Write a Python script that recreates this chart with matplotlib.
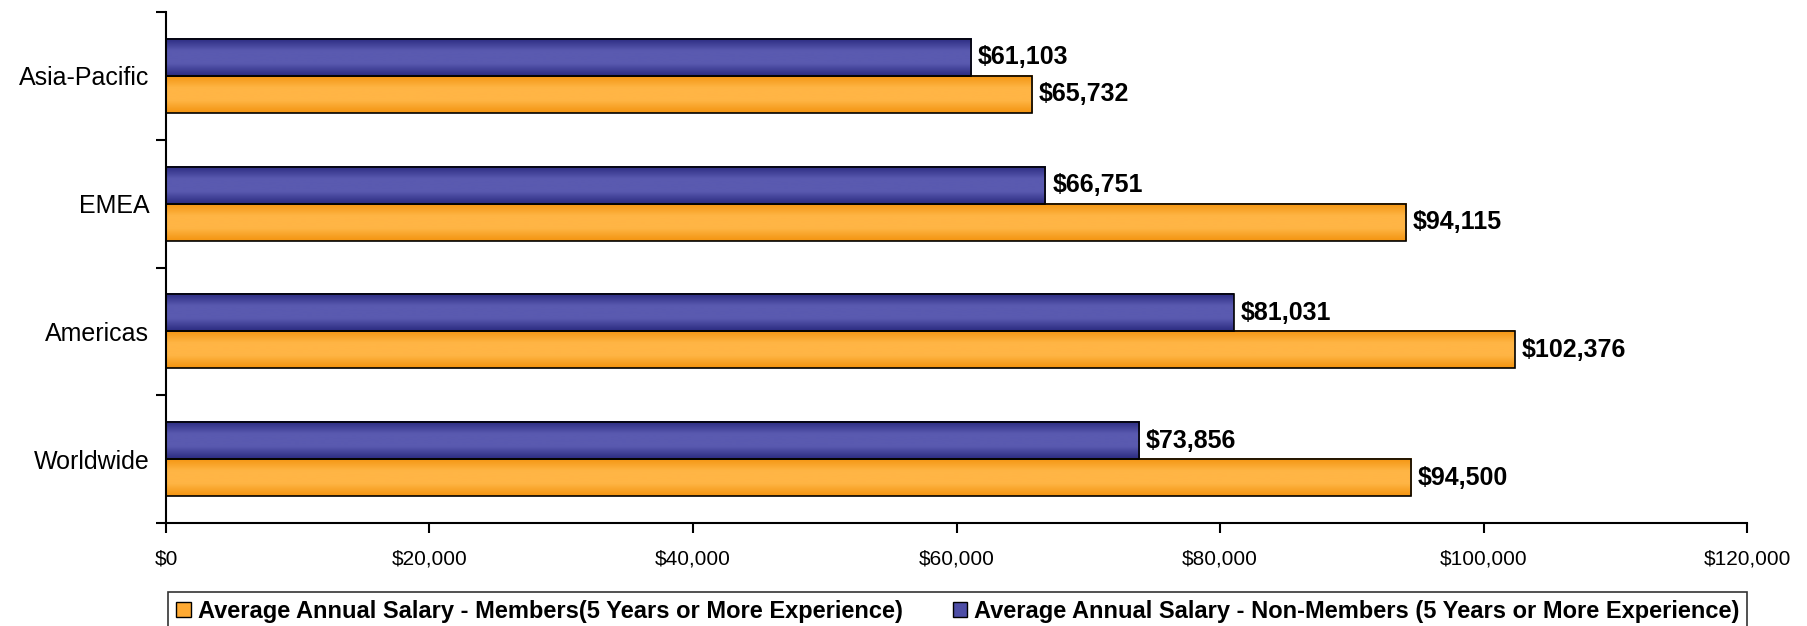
import matplotlib.pyplot as plt
import numpy as np
from matplotlib.patches import Patch

plt.rcParams['font.family'] = ['Liberation Sans', 'DejaVu Sans']

regions = ['Worldwide', 'Americas', 'EMEA', 'Asia-Pacific']
members = [94500, 102376, 94115, 65732]
non_members = [73856, 81031, 66751, 61103]
xticks = [0, 20000, 40000, 60000, 80000, 100000, 120000]

label_members = 'Average Annual Salary - Members(5 Years or More Experience)'
label_non = 'Average Annual Salary - Non-Members (5 Years or More Experience)'

orange = '#FFAA33'
blue = '#4E4EA6'

fig = plt.figure(figsize=(18.08, 6.26), dpi=100)
ax = fig.add_axes([0.0918, 0.1645, 0.8745, 0.8163])

y = np.arange(len(regions))
h = 0.29

def shaded_bars(ys, vals, dark, light):
    # bars with a soft vertical gradient like the original
    cmap = plt.matplotlib.colors.LinearSegmentedColormap.from_list('g', [dark, light, light, dark])
    grad = np.linspace(0, 1, 64).reshape(-1, 1)
    for yy, v in zip(ys, vals):
        ax.imshow(grad, extent=[0, v, yy - h / 2, yy + h / 2], cmap=cmap,
                  aspect='auto', zorder=2, interpolation='bicubic')
    ax.barh(ys, vals, height=h, facecolor='none', edgecolor='black', linewidth=1.2, zorder=3)

shaded_bars(y + h / 2, non_members, '#2B2B80', '#5A5AB0')
shaded_bars(y - h / 2, members, '#F39410', '#FFB545')

for yy, v in zip(y + h / 2, non_members):
    ax.annotate('${:,}'.format(v), (v, yy), xytext=(5, 0), textcoords='offset points',
                va='center', ha='left', fontsize=18, fontweight='bold')
for yy, v in zip(y - h / 2, members):
    ax.annotate('${:,}'.format(v), (v, yy), xytext=(5, 0), textcoords='offset points',
                va='center', ha='left', fontsize=18, fontweight='bold')

ax.set_xlim(0, 120000)
ax.set_ylim(-0.5, len(regions) - 0.5)
ax.set_xticks(xticks)
ax.set_xticklabels(['${:,}'.format(t) for t in xticks], fontsize=15)
ax.set_yticks(y)
ax.set_yticklabels(regions, fontsize=18)
ax.set_yticks(np.arange(-0.5, len(regions), 1), minor=True)

ax.tick_params(axis='y', which='major', length=0, pad=12)
ax.tick_params(axis='y', which='minor', length=7, width=1.5, direction='out')
ax.tick_params(axis='x', length=7, width=1.5, direction='out', pad=12)

for s in ['top', 'right']:
    ax.spines[s].set_visible(False)
ax.spines['left'].set_linewidth(1.5)
ax.spines['bottom'].set_linewidth(1.5)

handles = [Patch(facecolor=orange, edgecolor='black', label=label_members),
           Patch(facecolor=blue, edgecolor='black', label=label_non)]
leg = fig.legend(handles=handles, loc='upper left', ncol=2, mode='expand',
                 bbox_to_anchor=(0.093, 1 - 592 / 626, 0.8735, 0.0),
                 fontsize=17, frameon=True, fancybox=False, borderaxespad=0,
                 handlelength=0.6, handleheight=0.6, handletextpad=0.3,
                 columnspacing=0.3, borderpad=0.35)
leg.get_frame().set_edgecolor('black')
leg.get_frame().set_linewidth(1.2)
for t in leg.get_texts():
    t.set_fontweight('bold')

fig.savefig('out.png', dpi=100)
